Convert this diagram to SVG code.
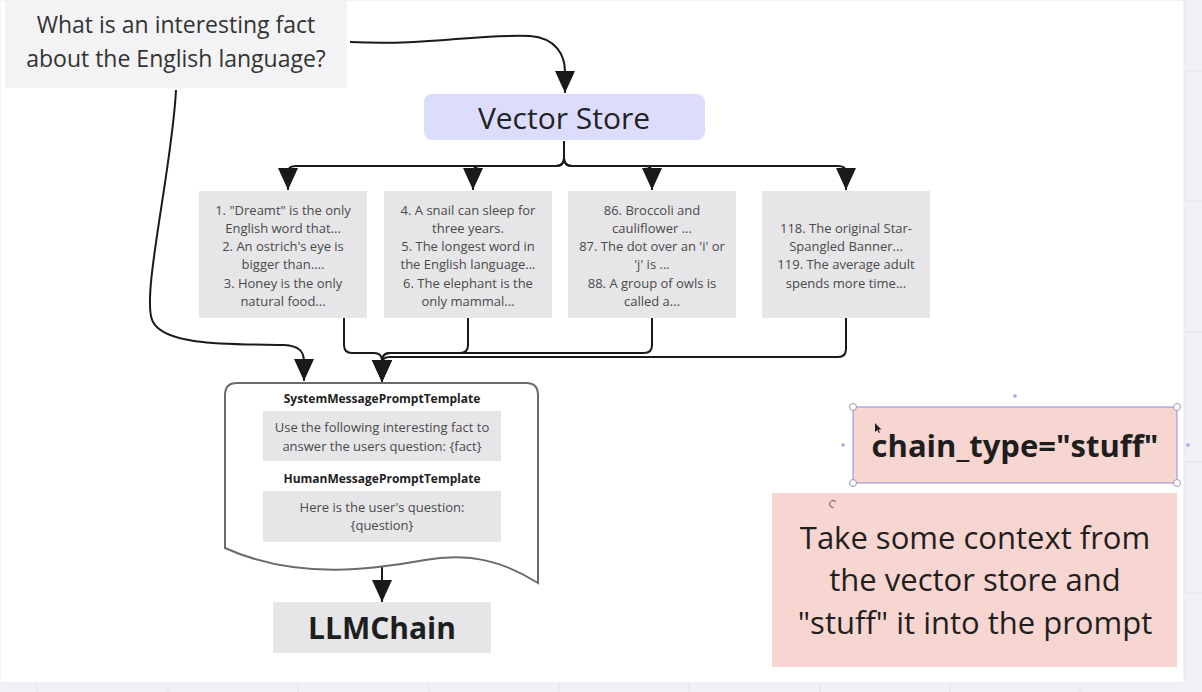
<svg xmlns="http://www.w3.org/2000/svg" width="1202" height="692" viewBox="0 0 1202 692">
<style>
text{font-family:"Open Sans","Noto Sans","Liberation Sans",sans-serif;}
.fact{font-size:13px;fill:#4a4a4a;text-anchor:middle;}
.gbox{fill:#e6e5e8;}
.conn{fill:none;stroke:#1a1a1a;stroke-width:2;}
.grid{stroke:#e3e2e8;stroke-width:1;}
.handle{fill:#fff;stroke:#9a9aa6;stroke-width:1;}
.dot{fill:#a8a4ee;}
</style>
<defs>
<marker id="arr" viewBox="0 0 22 20" refX="22" refY="10" markerWidth="22" markerHeight="20" markerUnits="userSpaceOnUse" orient="auto">
<path d="M0 0 L22 10 L0 20 Z" fill="#1a1a1a"/>
</marker>
</defs>
<rect x="0" y="0" width="1202" height="692" fill="#f1f0f4"/>
<g id="grid">
<line class="grid" x1="1184" y1="71" x2="1202" y2="71"/>
<line class="grid" x1="1184" y1="201" x2="1202" y2="201"/>
<line class="grid" x1="1184" y1="332" x2="1202" y2="332"/>
<line class="grid" x1="1184" y1="462" x2="1202" y2="462"/>
<line class="grid" x1="1184" y1="593" x2="1202" y2="593"/>
<line class="grid" x1="37" y1="683" x2="37" y2="692"/>
<line class="grid" x1="168" y1="683" x2="168" y2="692"/>
<line class="grid" x1="298" y1="683" x2="298" y2="692"/>
<line class="grid" x1="429" y1="683" x2="429" y2="692"/>
<line class="grid" x1="559" y1="683" x2="559" y2="692"/>
<line class="grid" x1="689" y1="683" x2="689" y2="692"/>
<line class="grid" x1="820" y1="683" x2="820" y2="692"/>
<line class="grid" x1="950" y1="683" x2="950" y2="692"/>
<line class="grid" x1="1080" y1="683" x2="1080" y2="692"/>
</g>
<rect x="0" y="0" width="1184" height="683" fill="#ffffff" stroke="#e8e7ec" stroke-width="1"/>

<g id="connectors">
<path class="conn" d="M350 42 C 430 46, 470 34, 530 36 C 556 38, 565 55, 565 72 L565 93" marker-end="url(#arr)"/>
<path class="conn" d="M176 90 C 172 170, 140 300, 153 322 C 166 346, 230 344, 284 345 C 300 346, 304 352, 304 362 L304 381" marker-end="url(#arr)"/>
<path class="conn" d="M564 141 L564 158 Q564 166 556 166 L296 166 Q288 166 288 172 L288 190" marker-end="url(#arr)"/>
<path class="conn" d="M564 158 Q564 166 556 166 L481 166 Q473 166 473 172 L473 190" marker-end="url(#arr)"/>
<path class="conn" d="M564 158 Q564 166 572 166 L644 166 Q652 166 652 172 L652 190" marker-end="url(#arr)"/>
<path class="conn" d="M564 158 Q564 166 572 166 L838 166 Q846 166 846 172 L846 190" marker-end="url(#arr)"/>
<path class="conn" d="M344 318 L344 345 Q344 353 352 353 L374 353 Q382 353 382 361 L382 382" marker-end="url(#arr)"/>
<path class="conn" d="M468 318 L468 345 Q468 353 460 353 L390 353 Q382 353 382 361 L382 382" marker-end="url(#arr)"/>
<path class="conn" d="M652 318 L652 345 Q652 353 644 353 L390 353 Q382 353 382 361 L382 382" marker-end="url(#arr)"/>
<path class="conn" d="M846 318 L846 349 Q846 357 838 357 L390 357 Q382 357 382 363 L382 382" marker-end="url(#arr)"/>
<path class="conn" d="M382 567 L382 602" marker-end="url(#arr)"/>
</g>

<g id="question">
<rect x="5" y="0" width="342" height="88" fill="#f3f2f5"/>
<text x="176" y="33" font-size="23" fill="#333" text-anchor="middle">What is an interesting fact</text>
<text x="176" y="67" font-size="23" fill="#333" text-anchor="middle">about the English language?</text>
</g>

<g id="vector-store">
<rect x="424" y="94" width="281" height="46" rx="8" fill="#dcdcfc"/>
<text x="564" y="129" font-size="30" fill="#222" text-anchor="middle">Vector Store</text>
</g>

<g id="fact1">
<rect class="gbox" x="199" y="191" width="168" height="127"/>
<text class="fact" x="283" y="214.5">1. "Dreamt" is the only</text>
<text class="fact" x="283" y="232.8">English word that...</text>
<text class="fact" x="283" y="251.1">2. An ostrich's eye is</text>
<text class="fact" x="283" y="269.4">bigger than....</text>
<text class="fact" x="283" y="287.7">3. Honey is the only</text>
<text class="fact" x="283" y="306">natural food...</text>
</g>
<g id="fact2">
<rect class="gbox" x="384" y="191" width="168" height="127"/>
<text class="fact" x="468" y="214.5">4. A snail can sleep for</text>
<text class="fact" x="468" y="232.8">three years.</text>
<text class="fact" x="468" y="251.1">5. The longest word in</text>
<text class="fact" x="468" y="269.4">the English language...</text>
<text class="fact" x="468" y="287.7">6. The elephant is the</text>
<text class="fact" x="468" y="306">only mammal...</text>
</g>
<g id="fact3">
<rect class="gbox" x="568" y="191" width="168" height="127"/>
<text class="fact" x="652" y="214.5">86. Broccoli and</text>
<text class="fact" x="652" y="232.8">cauliflower ...</text>
<text class="fact" x="652" y="251.1">87. The dot over an 'i' or</text>
<text class="fact" x="652" y="269.4">'j' is ...</text>
<text class="fact" x="652" y="287.7">88. A group of owls is</text>
<text class="fact" x="652" y="306">called a...</text>
</g>
<g id="fact4">
<rect class="gbox" x="762" y="191" width="168" height="127"/>
<text class="fact" x="846" y="232.8">118. The original Star-</text>
<text class="fact" x="846" y="251.1">Spangled Banner...</text>
<text class="fact" x="846" y="269.4">119. The average adult</text>
<text class="fact" x="846" y="287.7">spends more time...</text>
</g>

<g id="prompt">
<path d="M225 395 Q225 383 237 383 L526 383 Q538 383 538 395 L538 583 C 505 562, 470 552, 425 560 C 380 568, 300 582, 225 548 Z" fill="#ffffff" stroke="#6a6a6a" stroke-width="2"/>
<text x="382" y="403" font-size="12" font-weight="700" fill="#222" text-anchor="middle">SystemMessagePromptTemplate</text>
<rect class="gbox" x="263" y="411" width="238" height="50"/>
<text class="fact" x="382" y="431.5">Use the following interesting fact to</text>
<text class="fact" x="382" y="450.5">answer the users question: {fact}</text>
<text x="382" y="483" font-size="12" font-weight="700" fill="#222" text-anchor="middle">HumanMessagePromptTemplate</text>
<rect class="gbox" x="263" y="491" width="238" height="51"/>
<text class="fact" x="382" y="511.5">Here is the user's question:</text>
<text class="fact" x="382" y="529.5">{question}</text>
</g>

<g id="llmchain">
<rect class="gbox" x="273" y="602" width="218" height="51"/>
<text x="382" y="639" font-size="30" font-weight="700" fill="#1e1e1e" text-anchor="middle">LLMChain</text>
</g>

<g id="chain-type">
<rect x="853" y="407" width="324" height="76" fill="#f7d5d0" stroke="#8f88e8" stroke-width="1"/>
<text x="1015" y="457" font-size="31" font-weight="700" fill="#1e1e1e" text-anchor="middle">chain_type="stuff"</text>
<circle class="handle" cx="853" cy="407" r="3.5"/>
<circle class="handle" cx="1177" cy="407" r="3.5"/>
<circle class="handle" cx="853" cy="483" r="3.5"/>
<circle class="handle" cx="1177" cy="483" r="3.5"/>
<circle class="dot" cx="1015" cy="396" r="1.8"/>
<circle class="dot" cx="843" cy="445" r="1.8"/>
<circle class="dot" cx="1188" cy="445" r="1.8"/>
<circle class="dot" cx="1015" cy="495" r="1.8"/>
<path d="M875 423 L875 432 L877.5 430 L879 433 L880 432.5 L878.5 429.5 L881.5 429.5 Z" fill="#222"/>
</g>

<g id="explanation">
<rect x="772" y="493" width="405" height="174" fill="#f7d5d0"/>
<path d="M836 502 A3.5 3.5 0 1 0 833.5 507.5" fill="none" stroke="#555" stroke-width="1"/>
<text x="975" y="549" font-size="31" fill="#1f1f1f" text-anchor="middle">Take some context from</text>
<text x="975" y="591" font-size="31" fill="#1f1f1f" text-anchor="middle">the vector store and</text>
<text x="975" y="634" font-size="31" fill="#1f1f1f" text-anchor="middle">"stuff" it into the prompt</text>
</g>
</svg>
